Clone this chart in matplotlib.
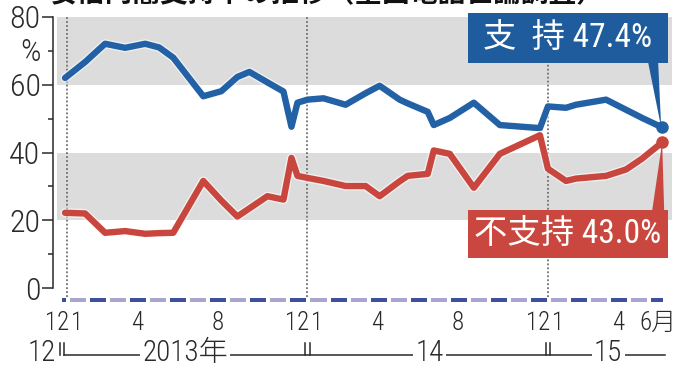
import matplotlib.pyplot as plt
import matplotlib.patheffects as pe
from matplotlib.patches import Rectangle, Polygon

# --- FONTURI ---
NARROW = ['Roboto Condensed', 'Noto Sans CJK JP', 'DejaVu Sans']
CJK = ['Noto Sans CJK JP', 'DejaVu Sans']
plt.rcParams['font.family'] = NARROW

# --- DATE (luni de la 1 dec 2012) ---
poll_month = [0.9, 1.9, 2.9, 3.9, 4.9, 5.6, 6.3, 7.8, 8.7, 9.5, 10.1, 11.0,
              11.8, 12.2, 12.5, 13.0, 13.8, 14.9, 15.9, 16.6, 17.6, 18.0,
              19.0, 19.3, 20.1, 21.3, 22.6, 24.6, 25.0, 25.9, 26.4, 27.9,
              28.9, 29.7, 30.7]
support = [62.0, 66.7, 72.1, 70.9, 72.1, 71.0, 68.0, 56.6, 58.1, 62.3, 63.8,
           60.7, 58.0, 47.6, 54.7, 55.6, 56.0, 54.1, 57.5, 59.7, 55.6, 54.5,
           52.0, 48.1, 50.2, 54.7, 48.1, 47.2, 53.6, 53.2, 54.1, 55.6, 52.6,
           50.2, 47.4]
oppose = [22.2, 22.0, 16.3, 16.8, 16.0, 16.2, 16.3, 31.6, 25.8, 21.1, 23.5,
          27.1, 26.1, 38.4, 33.1, 32.5, 31.6, 30.1, 30.1, 27.1, 31.5, 33.1,
          33.7, 40.6, 39.6, 29.6, 39.6, 45.1, 35.2, 31.6, 32.3, 33.1, 35.0,
          38.2, 43.0]

month_ticks = [0, 1, 4, 8, 12, 13, 16, 20, 24, 25, 28, 30]
month_labels = ['12', '1', '4', '8', '12', '1', '4', '8', '12', '1', '4', '6月']
year_starts = [0.75, 13, 25]
year_labels = ['12', '2013年', '14', '15']
year_label_pos = [-0.25, 6.9, 19.1, 28.0]

BLUE = '#2261a5'
RED = '#c8463e'
BOX_BLUE = '#1f5c9e'
BOX_RED = '#c9473f'
GRAY = '#dcdcdc'
INK = '#2a2a2a'

fig = plt.figure(figsize=(6.87, 3.72), dpi=100)
ax = fig.add_axes([53 / 687, 1 - 288 / 372, (672 - 53) / 687, (288 - 17) / 372])
ax.set_xlim(0.30, 31.19)
ax.set_ylim(0, 80)

# benzi gri
for lo, hi in [(20, 40), (60, 80)]:
    ax.axhspan(lo, hi, xmin=0.007, xmax=1, color=GRAY, lw=0, zorder=0)

# linii punctate la schimbarea anului
for u in [1, 13, 25]:
    ax.plot([u, u], [-2.6, 80], ls=(0, (1, 1.2)), color='#707070', lw=1.3,
            clip_on=False, zorder=1)

halo = [pe.Stroke(linewidth=6.5, foreground='white', alpha=0.6), pe.Normal()]
ax.plot(poll_month, support, color=BLUE, lw=4.6, solid_joinstyle='round',
        solid_capstyle='round', path_effects=halo, zorder=3, clip_on=False)
ax.plot(poll_month, oppose, color=RED, lw=4.6, solid_joinstyle='round',
        solid_capstyle='round', path_effects=halo, zorder=3, clip_on=False)
ax.plot(poll_month[-1], support[-1], 'o', color=BLUE, ms=8, zorder=4, clip_on=False)
ax.plot(poll_month[-1], oppose[-1], 'o', color=RED, ms=8, zorder=4, clip_on=False)

# casete cu valorile finale
ax.add_patch(Rectangle((21.0, 66.4), 10.0, 14.7, color=BOX_BLUE, lw=0,
                       clip_on=False, zorder=5))
ax.add_patch(Polygon([(30.0, 66.6), (30.5, 66.6), (poll_month[-1] - 0.05, support[-1])],
                     color=BOX_BLUE, lw=0, clip_on=False, zorder=5))
ax.text(26.0, 73.8, f'支  持 {support[-1]:.1f}%', color='white', fontsize=24,
        ha='center', va='center', family=NARROW, zorder=6)

ax.add_patch(Rectangle((21.0, 8.9), 10.0, 14.1, color=BOX_RED, lw=0,
                       clip_on=False, zorder=5))
ax.add_patch(Polygon([(30.2, 22.8), (30.8, 22.8), (poll_month[-1], oppose[-1])],
                     color=BOX_RED, lw=0, clip_on=False, zorder=5))
ax.text(26.0, 16.0, f'不支持 {oppose[-1]:.1f}%', color='white', fontsize=24,
        ha='center', va='center', family=NARROW, zorder=6)

# banda lunara
for m in range(0, 31):
    a = max(m + 0.15, 0.75)
    b = min(m + 0.95, 30.72)
    c = '#3d4f9f' if m % 2 == 0 else '#a9a5cf'
    ax.add_patch(Rectangle((a, -4.15), b - a, 1.2, color=c, lw=0, clip_on=False))

for m, lab in zip(month_ticks, month_labels):
    ax.text(m + 0.5, -10.4, lab, ha='center', va='center', fontsize=18,
            color=INK, family=NARROW, weight='light')

# rand cu anii
ax.plot([year_starts[0] + 0.12, 30.85], [-19.8, -19.8], color=INK, lw=1.1, clip_on=False)
for u in year_starts:
    for dx in (-0.12, 0.12):
        ax.plot([u + dx, u + dx], [-16.3, -19.8], color=INK, lw=1.1, clip_on=False)
for x, lab in zip(year_label_pos, year_labels):
    ax.text(x, -19.2, lab, ha='center', va='center', fontsize=21, color=INK,
            family=NARROW, weight='light',
            bbox=dict(boxstyle='square,pad=0.08', fc='white', ec='none'))

# axa y
for s in ['top', 'right', 'bottom']:
    ax.spines[s].set_visible(False)
ax.spines['left'].set_color(INK)
ax.spines['left'].set_linewidth(1.1)
ax.set_xticks([])
ax.set_yticks([0, 20, 40, 60, 80])
ax.set_yticklabels(['0', '20', '40', '60', '80'], weight='light')
ax.set_yticks([10, 30, 50, 70], minor=True)
ax.tick_params(axis='y', which='major', length=8, width=1.1, pad=1,
               labelsize=23, colors=INK)
ax.tick_params(axis='y', which='minor', length=3.6, width=1.1, colors=INK)
ax.text(-12 / 619, 69.5, '%', transform=ax.get_yaxis_transform(), ha='right',
        va='center', fontsize=23, color=INK, weight='light', family=NARROW)

# titlu (taiat sus in original)
fig.text(50 / 687, 1 - 1.5 / 372, '安倍内閣支持率の推移（全国電話世論調査）',
         fontsize=20, family=CJK, weight='bold', va='baseline', color='#111111')

fig.savefig('out.png', dpi=100)
